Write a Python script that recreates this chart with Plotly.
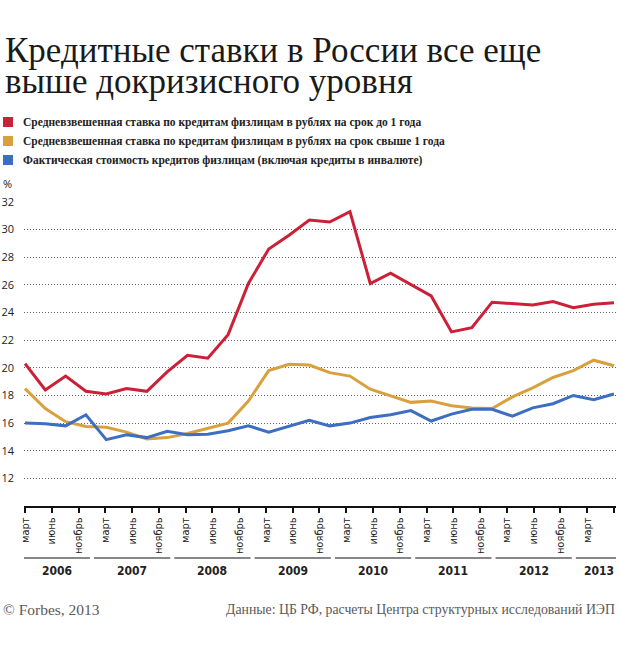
import plotly.graph_objects as go

# ---------------- data (quarterly, March 2006 .. June 2013) ----------------
short_term = [20.3, 18.4, 19.4, 18.3, 18.1, 18.5, 18.3, 19.7, 20.9, 20.7,
              22.4, 26.1, 28.6, 29.6, 30.7, 30.55, 31.3, 26.1, 26.85, 26.0,
              25.2, 22.6, 22.9, 24.75, 24.65, 24.55, 24.8, 24.35, 24.6, 24.7]
long_term = [18.5, 17.05, 16.1, 15.75, 15.7, 15.35, 14.85, 14.95, 15.25, 15.6,
             16.0, 17.6, 19.8, 20.25, 20.2, 19.65, 19.4, 18.45, 17.95, 17.5,
             17.6, 17.25, 17.1, 17.05, 17.9, 18.55, 19.3, 19.8, 20.55, 20.15]
actual_cost = [16.0, 15.95, 15.8, 16.6, 14.8, 15.15, 14.95, 15.4, 15.15, 15.2,
               15.45, 15.8, 15.35, 15.75, 16.2, 15.8, 16.0, 16.4, 16.6, 16.9,
               16.15, 16.65, 17.0, 17.0, 16.5, 17.1, 17.4, 18.0, 17.7, 18.1]

series_names = [
    "Средневзвешенная ставка по кредитам физлицам в рублях на срок до 1 года",
    "Средневзвешенная ставка по кредитам физлицам в рублях на срок свыше 1 года",
    "Фактическая стоимость кредитов физлицам (включая кредиты в инвалюте)",
]
series_colors = ["#cb2038", "#d9a03e", "#3c6ec2"]

month_labels = ["март", "июнь", "ноябрь"] * 7 + ["март", "июнь"]
years = ["2006", "2007", "2008", "2009", "2010", "2011", "2012", "2013"]
y_ticks = [12, 14, 16, 18, 20, 22, 24, 26, 28, 30, 32]

title_lines = ["Кредитные ставки в России все еще", "выше докризисного уровня"]
footer_left = "© Forbes, 2013"
footer_right = "Данные: ЦБ РФ, расчеты Центра структурных исследований ИЭП"

# ---------------- layout geometry ----------------
W, H = 620, 651
ML, MR, MT, MB = 24, 4, 202, 145
plot_h = H - MT - MB
plot_w = W - ML - MR


def py(p):  # pixel y -> paper y
    return (H - MB - p) / plot_h


def px(p):  # pixel x -> paper x
    return (p - ML) / plot_w


n = len(short_term)
xq = list(range(n))
n_ticks = len(month_labels)
tick_pos = [k * (n - 1) / (n_ticks - 1) for k in range(n_ticks)]
x_min, x_max = -0.05, n - 1 + 0.1

fig = go.Figure()
for vals, name, col in zip([short_term, long_term, actual_cost], series_names, series_colors):
    fig.add_trace(go.Scatter(x=xq, y=vals, mode="lines", name=name,
                             line=dict(color=col, width=3), showlegend=False,
                             hoverinfo="skip"))

label_font = "Liberation Sans Narrow"
tick_font = "DejaVu Sans Condensed"
serif = "Liberation Serif"

annotations = []
shapes = []

# title
for i, (t, ypx) in enumerate(zip(title_lines, [50, 81])):
    annotations.append(dict(text=t, xref="paper", yref="paper", x=px(3), y=py(ypx),
                            xanchor="left", yanchor="middle", showarrow=False,
                            font=dict(family=serif, size=35, color="#1a1a1a")))

# legend (squares + labels)
for name, col, ypx in zip(series_names, series_colors, [122, 141, 160]):
    shapes.append(dict(type="rect", xref="paper", yref="paper",
                       x0=px(3), x1=px(13), y0=py(ypx + 5), y1=py(ypx - 5),
                       fillcolor=col, line=dict(width=0)))
    annotations.append(dict(text="<b>" + name + "</b>", xref="paper", yref="paper",
                            x=px(21), y=py(ypx), xanchor="left", yanchor="middle",
                            showarrow=False,
                            font=dict(family=label_font, size=11.5, color="#222")))

# percent sign
annotations.append(dict(text="%", xref="paper", yref="paper", x=px(1), y=py(183),
                        xanchor="left", yanchor="middle", showarrow=False,
                        font=dict(family="Open Sans", size=11, color="#222")))

# year groups
step = tick_pos[1] - tick_pos[0]
for g, yr in enumerate(years):
    first = 3 * g
    last = min(3 * g + 2, n_ticks - 1)
    start = x_min if g == 0 else tick_pos[first] - step / 2 + 0.1
    end = x_max + 0.3 if last == n_ticks - 1 else tick_pos[last] + step / 2 - 0.1
    shapes.append(dict(type="line", xref="x", yref="paper", x0=start, x1=end,
                       y0=py(558), y1=py(558), line=dict(color="#111", width=1.2)))
    annotations.append(dict(text="<b>" + yr + "</b>", xref="x", yref="paper",
                            x=(start + end) / 2, y=py(571), xanchor="center",
                            yanchor="middle", showarrow=False,
                            font=dict(family=tick_font, size=12, color="#222")))

# footer
annotations.append(dict(text=footer_left, xref="paper", yref="paper", x=px(1), y=py(609),
                        xanchor="left", yanchor="middle", showarrow=False,
                        font=dict(family=serif, size=15.5, color="#5a5a5a")))
annotations.append(dict(text=footer_right, xref="paper", yref="paper", x=px(617), y=py(609),
                        xanchor="right", yanchor="middle", showarrow=False,
                        font=dict(family=serif, size=13.8, color="#5a5a5a")))

fig.update_layout(
    width=W, height=H,
    margin=dict(l=ML, r=MR, t=MT, b=MB, autoexpand=False),
    paper_bgcolor="white", plot_bgcolor="white",
    annotations=annotations, shapes=shapes,
    showlegend=False,
    xaxis=dict(range=[x_min, x_max], tickmode="array", tickvals=tick_pos,
               ticktext=month_labels, tickangle=-90, ticks="outside", ticklen=5,
               tickwidth=1.5, tickcolor="#111", showgrid=False, zeroline=False,
               showline=True, linecolor="#111", linewidth=2, automargin=False,
               tickfont=dict(family=tick_font, size=11, color="#222")),
    yaxis=dict(range=[10, 32], tickmode="array", tickvals=y_ticks,
               showgrid=True, gridcolor="#666", griddash="1px,2px", gridwidth=1,
               zeroline=False, showline=False, ticks="", automargin=False,
               ticklabelstandoff=9,
               tickfont=dict(family="Open Sans", size=11, color="#222")),
)

fig.write_html("out.html", config={"displayModeBar": False},
               post_script="document.body.style.margin='0';document.body.style.overflow='hidden';")
